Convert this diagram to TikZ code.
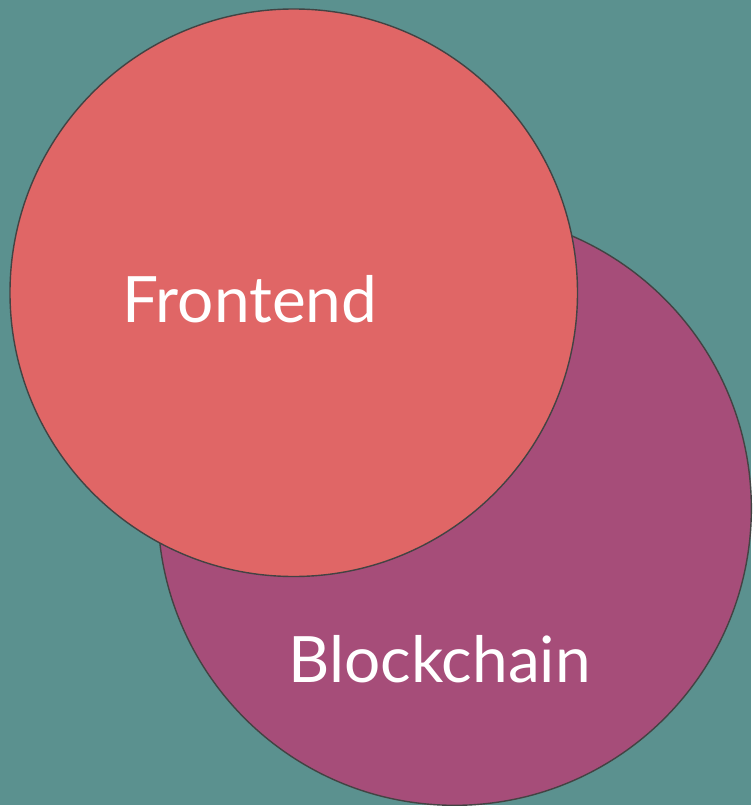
\documentclass[tikz,border=0pt]{standalone}
\usepackage{fontspec}
\setmainfont{Lato}
\definecolor{bgteal}{HTML}{5B918F}
\definecolor{frontred}{HTML}{E06666}
\definecolor{chainpurple}{HTML}{A64D79}
\definecolor{rimgray}{HTML}{434343}
\tikzset{
  disc/.style={circle, draw=rimgray, line width=1.4pt, inner sep=0pt},
  tag/.style={text=white, anchor=base, inner sep=0pt, font=\fontsize{64}{64}\selectfont}
}
\begin{document}
\begin{tikzpicture}[x=1pt,y=-1pt]
        \fill[bgteal] (0,0) rectangle (752,806);
        \node[disc, fill=chainpurple, minimum size=594pt] (chain) at (455,509) {};
        \node[disc, fill=frontred, minimum size=568pt] (front) at (294,293) {};
        \node[tag] (frontlbl) at (250,323) {Frontend};
        \node[tag] (chainlbl) at (440,683) {Blockchain};
    \end{tikzpicture}
\end{document}
